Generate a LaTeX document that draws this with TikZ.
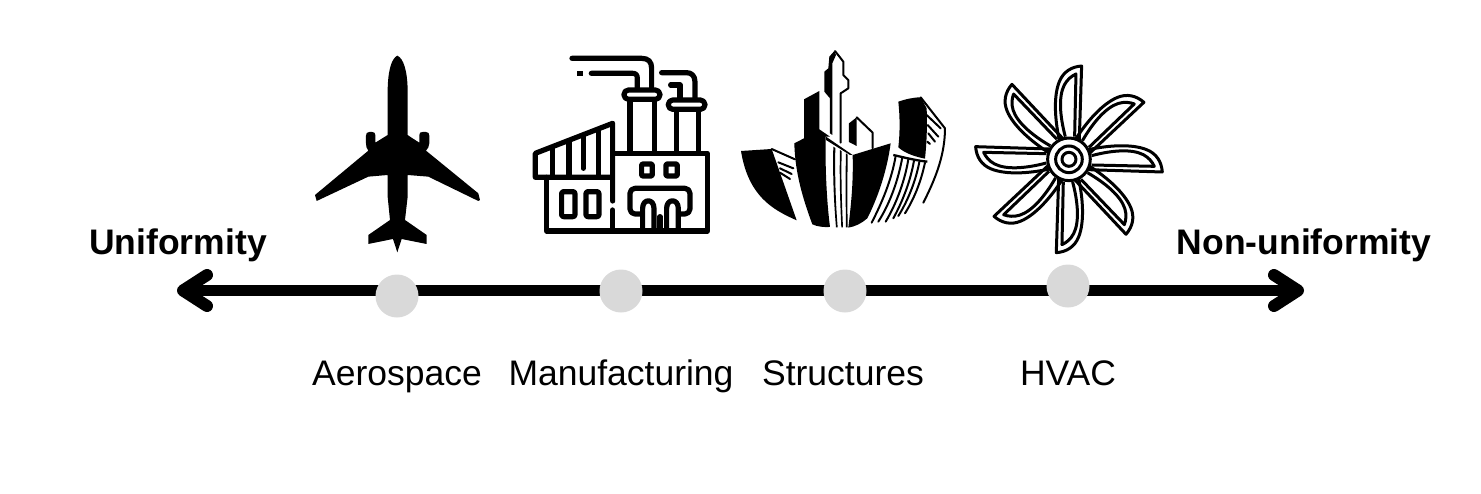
\documentclass[tikz,border=0pt]{standalone}
\usepackage{fontspec}
\setmainfont{Liberation Sans}
\usetikzlibrary{arrows.meta, positioning}
\begin{document}
\begin{tikzpicture}[
    x=1pt, y=-1pt,
    dot/.style={circle, fill=black!15, inner sep=0pt, minimum size=43pt},
    lab/.style={font=\fontsize{35.5}{40}\selectfont, inner sep=0pt, anchor=base},
    endlab/.style={font=\fontsize{35.5}{40}\selectfont\bfseries, inner sep=0pt, anchor=base},
    axisline/.style={{Straight Barb[round, length=24pt, width=31pt, line width=12pt]}-{Straight Barb[round, length=24pt, width=31pt, line width=12pt]}, line width=11pt},
    icon/.style={x=0.3333pt, y=-0.3333pt},
    pipe/.style={line width=5.2pt, line cap=round, line join=round},
    ink/.style={fill=black, draw=none},
    thin ink/.style={line width=2pt, line cap=round, line join=round},
    fan/.style={line width=3pt, line join=round}
]
\useasboundingbox (0,0) rectangle (1481,493);

% airplane
\begin{scope}[shift={(300,40)}, icon]
\fill[ink] (292,47) .. controls (310,55) and (322,90) .. (323,150) -- (323,285) -- (330,290) -- (358,308) -- (358,285)
  .. controls (358,278) and (362,276) .. (368,276) -- (378,276) .. controls (385,276) and (388,280) .. (388,287) -- (388,310)
  .. controls (388,320) and (383,326) .. (378,332) -- (535,460) -- (540,480) -- (535,483) -- (385,410) -- (323,405) -- (323,470)
  -- (315,540) -- (380,585) -- (380,612) -- (305,597) -- (292,637) -- (279,597) -- (205,612) -- (205,585) -- (270,540)
  -- (263,470) -- (263,405) -- (205,410) -- (50,483) -- (45,465) -- (205,332)
  .. controls (200,326) and (198,320) .. (198,310) -- (198,287) .. controls (198,280) and (201,276) .. (208,276) -- (216,276)
  .. controls (222,276) and (226,278) .. (226,285) -- (226,308) -- (255,290) -- (263,285) -- (263,150)
  .. controls (264,90) and (275,55) .. (292,47) -- cycle;
\end{scope}

% factory
\begin{scope}[shift={(300,40)}, icon]
\draw[pipe] (938,340) -- (1222,340) -- (1222,573) -- (740,573) -- (740,412);
\draw[pipe] (938,412) -- (706,412) -- (706,340) -- (938,250) -- (938,483);
\draw[pipe] (938,510) -- (938,573);
\draw[pipe] (758,322) -- (758,412) (807,302) -- (807,412) (850,290) -- (850,385) (895,268) -- (895,412);
\draw[pipe, rounded corners=2pt] (785,455) rectangle (825,530);
\draw[pipe, rounded corners=2pt] (858,455) rectangle (897,530);
\draw[pipe] (990,180) -- (990,340) (1063,180) -- (1063,340);
\draw[pipe] (1130,210) -- (1130,340) (1195,210) -- (1195,340);
\draw[pipe, rounded corners=4.5pt] (972,150) rectangle (1080,178);
\draw[pipe, rounded corners=4.5pt] (1105,180) rectangle (1215,208);
\draw[pipe] (1055,145) -- (1055,85) .. controls (1055,65) and (1045,55) .. (1025,55) -- (816,55);
\draw[pipe] (1012,145) -- (1012,115) .. controls (1012,105) and (1008,100) .. (998,100) -- (874,100);
\draw[pipe] (1185,175) -- (1185,125) .. controls (1185,108) and (1175,98) .. (1160,98) -- (1085,98);
\draw[pipe] (1140,175) -- (1140,135) -- (1112,135);
\fill[ink] (831,92) rectangle (848,108);
\draw[pipe, rounded corners=1pt] (1025,372) rectangle (1057,408);
\draw[pipe, rounded corners=1pt] (1098,372) rectangle (1132,408);
\draw[pipe, rounded corners=5pt] (1025,522) -- (990,522) -- (990,445) -- (1170,445) -- (1170,522) -- (1138,522);
\draw[pipe] (1028,573) -- (1028,505) .. controls (1028,475) and (1062,475) .. (1062,505) -- (1062,573);
\draw[pipe] (1100,573) -- (1100,505) .. controls (1100,475) and (1135,475) .. (1135,505) -- (1135,573);
\draw[pipe] (1080,530) -- (1080,573);
\end{scope}

% buildings
\begin{scope}[shift={(730,40)}, icon]
\fill[ink] (33,333) -- (125,327) -- (200,541) .. controls (130,510) and (55,470) .. (33,333) -- cycle;
\draw[thin ink] (125,327) -- (195,358);
\draw[thin ink] (145,367) -- (190,385) (150,385) -- (185,402) (150,398) -- (180,417);
\fill[ink] (193,310) -- (222,295) -- (222,178) -- (268,153) -- (268,268) -- (300,290) -- (287,290) .. controls (285,400) and (292,500) .. (300,561)
  .. controls (280,562) and (262,560) .. (247,553) .. controls (220,480) and (195,400) .. (193,310) -- cycle;
\fill[ink] (283,155) -- (283,95) -- (295,85) -- (298,50) -- (313,33) -- (318,45) -- (307,70) -- (307,285) -- (300,280) -- (300,175) -- cycle;
\draw[thin ink] (315,33) -- (340,65) -- (340,105) -- (355,120) -- (355,145) -- (332,160) -- (332,308);
\fill[ink] (357,250) -- (380,232) -- (380,318) -- (357,306) -- cycle;
\draw[thin ink] (380,232) -- (428,278) -- (428,325);
\fill[ink] (288,290) -- (368,345) -- (360,345) -- (288,300) -- cycle;
\fill[ink] (310,320) -- (316,324) .. controls (314,420) and (318,500) .. (323,562) -- (318,562) .. controls (311,480) and (308,400) .. (310,320) -- cycle;
\fill[ink] (330,330) -- (335,334) .. controls (333,420) and (336,500) .. (339,562) -- (334,562) .. controls (330,480) and (328,400) .. (330,330) -- cycle;
\fill[ink] (348,340) -- (353,344) .. controls (352,430) and (352,500) .. (353,562) -- (348,562) .. controls (347,480) and (346,420) .. (348,340) -- cycle;
\fill[ink] (368,345) -- (482,310) .. controls (470,400) and (440,480) .. (412,535) .. controls (395,550) and (375,560) .. (355,563) .. controls (365,480) and (370,420) .. (368,345) -- cycle;
\fill[ink] (505,185) .. controls (525,178) and (550,172) .. (572,172) -- (590,205) .. controls (592,260) and (590,310) .. (585,356) .. controls (555,350) and (525,340) .. (505,322) .. controls (510,280) and (510,230) .. (505,185) -- cycle;
\draw[thin ink] (572,172) -- (645,265) .. controls (645,340) and (620,410) .. (580,488);
\draw[thin ink] (590,225) -- (632,265) (593,255) -- (625,290) (595,280) -- (615,305) (592,305) -- (600,312);
\draw[line width=2.3pt] (490,345) .. controls (520,352) and (560,362) .. (592,365);
\draw[thin ink] (497,348) .. controls (485,420) and (455,490) .. (425,548);
\draw[thin ink] (517,352) .. controls (505,420) and (480,490) .. (445,545);
\draw[thin ink] (535,358) .. controls (525,420) and (500,490) .. (467,545);
\draw[thin ink] (552,362) .. controls (542,420) and (520,480) .. (490,535);
\draw[thin ink] (568,366) .. controls (558,420) and (535,480) .. (505,528);
\draw[thin ink] (585,368) .. controls (572,430) and (550,480) .. (525,520);
\end{scope}

% fan
\begin{scope}[shift={(730,40)}, icon]
\foreach \ang in {0,45,...,315}{
  \begin{scope}[rotate around={\ang:(1017,358)}]
  \draw[fan] (988,300) .. controls (975,240) and (970,170) .. (988,125) .. controls (1000,95) and (1025,80) .. (1055,78) -- (1048,300);
  \draw[fan] (1006,290) .. controls (990,230) and (985,170) .. (1003,135) .. controls (1012,118) and (1025,108) .. (1038,102) -- (1034,290);
  \end{scope}
}
\draw[fan, fill=white] (1017,358) circle (64);
\draw[fan] (1017,358) circle (40);
\draw[fan] (1017,358) circle (21);
\end{scope}

% axis
\coordinate (leftend) at (177,290.5);
\coordinate (rightend) at (1304,290.5);
\draw[axisline] (leftend) -- (rightend);

\node[dot] (dotaero) at (397,296) {};
\node[dot] (dotmanu) at (621,291) {};
\node[dot] (dotstru) at (845,291) {};
\node[dot] (dothvac) at (1068,286) {};

\node[lab] (aero) at (397,385) {Aerospace};
\node[lab] (manu) at (621,385) {Manufacturing};
\node[lab] (stru) at (843,385) {Structures};
\node[lab] (hvac) at (1068,385) {HVAC};

\node[endlab] (unif) at (178,254) {Uniformity};
\node[endlab] (nonunif) at (1304,254) {Non-uniformity};
\end{tikzpicture}
\end{document}
